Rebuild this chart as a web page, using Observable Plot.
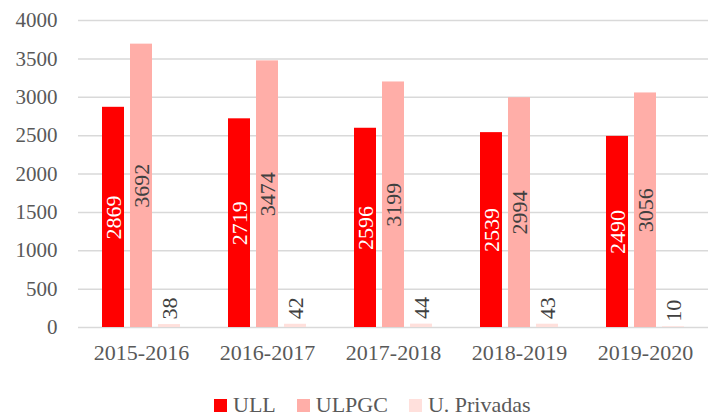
<!DOCTYPE html>
<html>
<head>
<meta charset="utf-8">
<script src="https://cdn.jsdelivr.net/npm/d3@7"></script>
<script src="https://cdn.jsdelivr.net/npm/@observablehq/plot@0.6"></script>
<style>
  html, body { margin: 0; padding: 0; background: #fff; }
  #wrap { position: relative; width: 710px; height: 417px; font-family: 'Liberation Serif', 'Times New Roman', 'DejaVu Serif', 'Noto Serif', Times, serif; }
  #legend { position: absolute; left: 214px; top: 393px; display: flex; align-items: center; font-size: 22px; color: #595959; line-height: 24px; }
  #legend .item { display: flex; align-items: center; margin-right: 21px; }
  #legend .sw { width: 13px; height: 13px; margin-right: 6px; }
  #chart svg, #chart svg text { font-family: 'Liberation Serif', 'Times New Roman', 'DejaVu Serif', 'Noto Serif', Times, serif !important; }
</style>
</head>
<body>
<div id="wrap">
  <div id="chart"></div>
  <div id="legend"></div>
</div>
<script>
const categories = ["2015-2016", "2016-2017", "2017-2018", "2018-2019", "2019-2020"];
const series = ["ULL", "ULPGC", "U. Privadas"];
const colors = ["#ff0000", "#ffaea8", "#ffe0dc"];
const ull = [2869, 2719, 2596, 2539, 2490];
const ulpgc = [3692, 3474, 3199, 2994, 3056];
const privadas = [38, 42, 44, 43, 10];
const yTicks = [0, 500, 1000, 1500, 2000, 2500, 3000, 3500, 4000];

const values = [ull, ulpgc, privadas];
const data = [];
categories.forEach((c, i) => {
  series.forEach((s, j) => data.push({cat: c, series: s, value: values[j][i]}));
});
const inside = data.filter(d => d.series !== "U. Privadas");
const outside = data.filter(d => d.series === "U. Privadas");

const chart = Plot.plot({
  width: 710,
  height: 380,
  marginLeft: 78,
  marginRight: 2,
  marginTop: 20,
  marginBottom: 53,
  style: {fontFamily: "'Liberation Serif', 'Times New Roman', serif", fontSize: "22px", color: "#595959", background: "#fff"},
  fx: {domain: categories, padding: 0, label: null, axis: null},
  x: {domain: series, paddingInner: 0.23, paddingOuter: 0.825, axis: null},
  y: {domain: [0, 4000], label: null},
  color: {domain: series, range: colors},
  marks: [
    Plot.gridY(yTicks, {stroke: "#d9d9d9", strokeOpacity: 1, strokeWidth: 1.5}),
    Plot.axisY(yTicks, {tickSize: 0, tickPadding: 21, fontSize: 21, label: null, fill: "#595959", tickFormat: d => String(d)}),
    Plot.axisFx({anchor: "bottom", tickSize: 0, tickPadding: 17, fontSize: 22, label: null, fill: "#595959"}),
    Plot.barY(data, {fx: "cat", x: "series", y: "value", fill: "series"}),
    Plot.text(inside, {
      fx: "cat", x: "series", y: d => d.value / 2, text: d => String(d.value),
      rotate: -90, fontSize: 22,
      fill: d => d.series === "ULL" ? "#ffffff" : "#404040"
    }),
    Plot.text(outside, {
      fx: "cat", x: "series", y: "value", text: d => String(d.value),
      rotate: -90, textAnchor: "start", dy: -5, fontSize: 22, fill: "#404040"
    })
  ]
});
document.getElementById("chart").appendChild(chart);

const legend = document.getElementById("legend");
series.forEach((s, i) => {
  const item = document.createElement("div");
  item.className = "item";
  const sw = document.createElement("div");
  sw.className = "sw";
  sw.style.background = colors[i];
  const t = document.createElement("span");
  t.textContent = s;
  item.appendChild(sw);
  item.appendChild(t);
  legend.appendChild(item);
});
</script>
</body>
</html>
